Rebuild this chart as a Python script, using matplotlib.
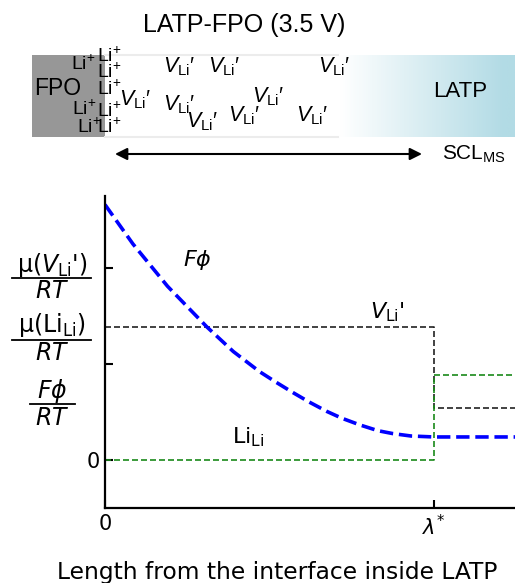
import numpy as np
import matplotlib.pyplot as plt
from matplotlib.patches import Rectangle

plt.rcParams['font.family'] = 'DejaVu Sans'
plt.rcParams['mathtext.fontset'] = 'custom'
plt.rcParams['mathtext.rm'] = 'Liberation Sans'
plt.rcParams['mathtext.it'] = 'Liberation Sans:italic'

W, H = 515, 583

# electrostatic potential F*phi/RT across the space-charge layer
phi_x = [0, 0.085, 0.19, 0.31, 0.39, 0.47, 0.52, 0.57, 0.62, 0.675, 0.72,
         0.775, 0.83, 0.875, 0.93, 1.0, 1.25]
phi_y = [2.66, 2.25, 1.81, 1.385, 1.13, 0.92, 0.81, 0.705, 0.605, 0.505, 0.435,
         0.365, 0.305, 0.275, 0.25, 0.24, 0.24]

# region boundaries: interface, lambda*, far bulk
edges = [0.0, 1.0, 1.25]
vac_levels = [1.385, 0.54]   # mu(V_Li')/RT inside / beyond the layer
li_levels = [0.0, 0.885]     # mu(Li_Li)/RT inside / beyond the layer

y_ticks = [0, 1, 2]
y_ticklabels = ['0', '', '']
x_ticks = [0, 1]
x_ticklabels = ['0', r'$\lambda^{*}$']

li_column = ['Li$^{+}$'] * 5
vac_label = r'$V_{\mathrm{Li}}\prime$'


def step(levels):
    return [edges[0], edges[1], edges[1], edges[2]], [levels[0], levels[0], levels[1], levels[1]]


fig = plt.figure(figsize=(W / 100, H / 100), dpi=100)

# pixel-space overlay for the schematic and the stacked labels
ov = fig.add_axes([0, 0, 1, 1], zorder=0)
ov.set_xlim(0, W)
ov.set_ylim(H, 0)
ov.axis('off')

ov.text(244, 32, 'LATP-FPO (3.5 V)', fontsize=18, family='Liberation Sans',
        ha='center', va='baseline')

# FPO block, white depletion band, LATP gradient
ov.add_patch(Rectangle((32, 55), 73, 82, color='#979797', lw=0))
ov.plot([105, 338], [55, 55], color='#ececec', lw=1.5)
ov.plot([105, 338], [137, 137], color='#ececec', lw=1.5)
t = np.clip((np.linspace(338, 515, 200) - 340) / 165, 0, 1)
blue = np.array([178, 219, 229]) / 255
grad = (1 - t)[:, None] * np.ones(3) + t[:, None] * blue
ov.imshow(grad[None, :, :], extent=(338, 515, 137, 55), aspect='auto', zorder=1)

ov.text(34, 95, 'FPO', fontsize=16.5, family='Liberation Sans', va='baseline', zorder=3)
ov.text(433, 97, 'LATP', fontsize=16, family='Liberation Sans', va='baseline', zorder=3)

for lab, yb in zip(li_column, [62, 78, 95, 117, 133]):
    ov.text(97, yb, lab, fontsize=14, family='Liberation Sans', va='baseline', zorder=3)
for xl, yb in zip([71, 72, 77], [70, 115, 133]):
    ov.text(xl, yb, 'Li$^{+}$', fontsize=14, family='Liberation Sans', va='baseline', zorder=3)

vac_pos = [(163, 72), (208, 72), (318, 72), (119, 105), (163, 110),
           (252, 102), (186, 127), (228, 121), (296, 121)]
for xl, yb in vac_pos:
    ov.text(xl, yb, vac_label, fontsize=15.5, family='Liberation Sans', va='baseline', zorder=3)

ov.annotate('', xy=(422, 154), xytext=(115, 154),
            arrowprops=dict(arrowstyle='<|-|>', color='black', lw=1.5,
                            mutation_scale=18, shrinkA=0, shrinkB=0))
ov.text(442, 160, r'SCL$_{\mathrm{MS}}$', fontsize=15, family='Liberation Sans', va='baseline')

# stacked y-axis labels drawn as fractions
fracs = [
    (r"μ($V_{\mathrm{Li}}$')", 272, 278, 298, 12, 91),
    (r"μ(Li$_{\mathrm{Li}}$)", 332, 340, 360, 12, 91),
    (r"$F\phi$", 398, 404, 425, 30, 75),
]
for num, yn, ybar, yd, x0, x1 in fracs:
    ov.text(52, yn, num, fontsize=17, ha='center', va='baseline', math_fontfamily='dejavusans')
    ov.plot([x0, x1], [ybar, ybar], color='black', lw=1.3)
    ov.text(52, yd, r'$RT$', fontsize=17, ha='center', va='baseline', math_fontfamily='dejavusans')

ov.text(277.5, 578.5, 'Length from the interface inside LATP', fontsize=16.8,
        ha='center', va='baseline')

# main energy-level plot
ax = fig.add_axes([105 / W, 1 - 508 / H, 410 / W, 312 / H], zorder=1)
ax.set_facecolor('none')
ax.set_xlim(0, 410 / 329)
ax.set_ylim(-0.5, 2.75)

sx, sy = step(vac_levels)
ax.plot(sx, sy, color='#222222', lw=1.2, dashes=(3.6, 1.8))
sx, sy = step(li_levels)
ax.plot(sx, sy, color='#1a8a1a', lw=1.2, dashes=(3.6, 1.8))
ax.plot(phi_x, phi_y, color='#0000ff', lw=2.6, ls='--')

ax.text(0.28, 2.08, r'$F\phi$', fontsize=16, ha='center', va='center', math_fontfamily='dejavusans')
ax.text(0.857, 1.47, r"$V_{\mathrm{Li}}$'", fontsize=16, ha='center', va='baseline',
        math_fontfamily='dejavusans')
ax.text(0.435, 0.17, r'Li$_{\mathrm{Li}}$', fontsize=16, ha='center', va='baseline',
        math_fontfamily='dejavusans')

for side in ['top', 'right']:
    ax.spines[side].set_visible(False)
for side in ['left', 'bottom']:
    ax.spines[side].set_linewidth(1.6)

ax.set_yticks(y_ticks)
ax.set_yticklabels(y_ticklabels)
ax.set_xticks(x_ticks)
ax.set_xticklabels(x_ticklabels, math_fontfamily='dejavusans')
ax.tick_params(direction='in', length=6, width=1.5, labelsize=15, pad=4)

fig.savefig('out.png', dpi=100)
